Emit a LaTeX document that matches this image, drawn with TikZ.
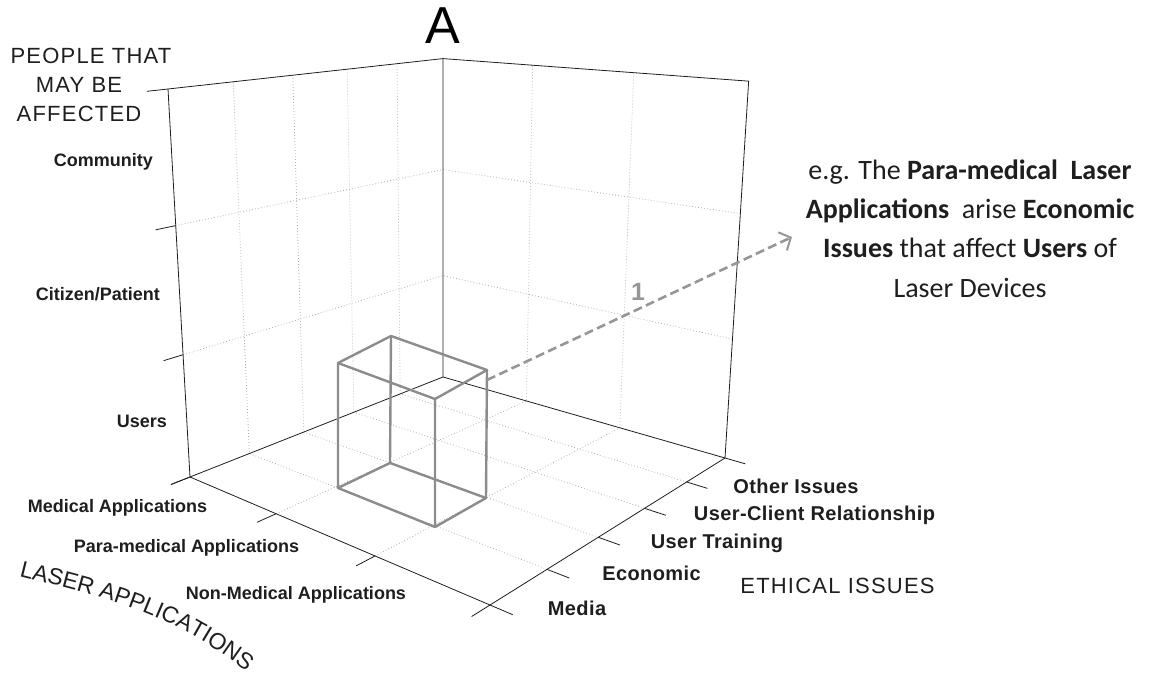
\documentclass[tikz,border=0pt]{standalone}
\usepackage{fontspec}
\setmainfont{Liberation Sans}
\newfontfamily\notefont{Carlito}
\newfontfamily\titlefont{Liberation Sans}[LetterSpace=5.5]
\newfontfamily\ethicfont{Liberation Sans}[LetterSpace=2]
\usetikzlibrary{arrows.meta,decorations.text}

\definecolor{gridgray}{RGB}{175,175,175}
\definecolor{boxgray}{RGB}{140,140,140}
\definecolor{arrowgray}{RGB}{150,150,150}
\definecolor{ink}{RGB}{30,30,30}

% Perspective image of a point of the unit cube:
% l = laser applications, e = ethical issues, p = people (all in [0,1]).
\newcommand\cubept[4]{%
  \pgfmathsetmacro\cubew{1-0.195*(#2)+0.2263*(#3)-0.08*(#4)}%
  \pgfmathsetmacro\cubex{(190+204.45*(#2)+353.25*(#3)-35.44*(#4))/\cubew}%
  \pgfmathsetmacro\cubey{(477+10.03*(#2)-14.7*(#3)-395.12*(#4))/\cubew}%
  \coordinate (#1) at (\cubex,\cubey);%
}

\begin{document}
\begin{tikzpicture}[x=1pt,y=-1pt,
  grid/.style={gridgray, line width=0.8pt, dash pattern=on 0.8pt off 2.2pt},
  frame/.style={ink, line width=0.8pt},
  tickmark/.style={ink, line width=0.8pt},
  ticklabel/.style={font=\fontsize{18}{18}\selectfont\bfseries, text=ink, inner sep=0pt},
  ethiclabel/.style={font=\ethicfont\fontsize{20}{20}\selectfont\bfseries, text=ink, inner sep=0pt},
  axistitle/.style={font=\titlefont\fontsize{22}{29}\selectfont, text=ink, inner sep=0pt},
  cuboid/.style={boxgray, line width=2.4pt, line join=round},
  callout/.style={arrowgray, line width=2.6pt, dash pattern=on 9pt off 4.5pt,
    -{Straight Barb[length=9pt,width=20pt,line width=2pt]}},
  note/.style={font=\notefont\fontsize{28}{39.3}\selectfont, text=ink, align=center, inner sep=0pt}
]
\useasboundingbox (0,0) rectangle (1154,676);

% ---- dotted grid on the floor and the two back walls
\foreach \k in {1,2,3,4} {
  \cubept{ga}{1}{\k/5}{0}
  \cubept{gb}{0}{\k/5}{0}
  \cubept{gc}{0}{\k/5}{1}
  \draw[grid] (ga) -- (gb) -- (gc);
}
\foreach \k in {1,2} {
  \cubept{ha}{\k/3}{0}{0}
  \cubept{hb}{\k/3}{1}{0}
  \cubept{hc}{\k/3}{1}{1}
  \draw[grid] (ha) -- (hb) -- (hc);
  \cubept{va}{0}{0}{\k/3}
  \cubept{vb}{0}{1}{\k/3}
  \cubept{vc}{1}{1}{\k/3}
  \draw[grid] (va) -- (vb) -- (vc);
}

% ---- axis frame
\cubept{O}{0}{0}{0}
\cubept{F}{1}{0}{0}
\cubept{BK}{0}{1}{0}
\cubept{RB}{1}{1}{0}
\cubept{LT}{0}{0}{1}
\cubept{BT}{0}{1}{1}
\cubept{RT}{1}{1}{1}
\draw[frame] (LT) -- (O) -- (F) -- (RB) -- (RT) -- (BT) -- (LT);
\draw[frame] (BT) -- (BK);
\draw[frame] (O) -- (BK) -- (RB);

% ---- tick marks
\foreach \k in {0,1,2,3} {
  \cubept{ta}{0}{0}{\k/3}
  \cubept{tb}{0}{-0.06}{\k/3}
  \draw[tickmark] (ta) -- (tb);
  \cubept{tc}{\k/3}{0}{0}
  \cubept{td}{\k/3}{-0.06}{0}
  \draw[tickmark] (tc) -- (td);
}
\foreach \k in {0,...,5} {
  \cubept{te}{1}{\k/5}{0}
  \cubept{tf}{1.06}{\k/5}{0}
  \draw[tickmark] (te) -- (tf);
}

% ---- highlighted cell: para-medical / economic / users
\coordinate (t1) at (338,363);
\coordinate (t2) at (391,336);
\coordinate (t3) at (487,370);
\coordinate (t4) at (435,399);
\coordinate (b1) at (338,488);
\coordinate (b2) at (390,463);
\coordinate (b3) at (486,498);
\coordinate (b4) at (435,527);
\draw[cuboid] (t1) -- (t2) -- (t3) -- (t4) -- cycle;
\draw[cuboid] (b1) -- (b2) -- (b3) -- (b4) -- cycle;
\draw[cuboid] (t1) -- (b1) (t2) -- (b2) (t3) -- (b3) (t4) -- (b4);

% ---- callout
\coordinate (src) at (487,380);
\coordinate (tip) at (792,237);
\draw[callout] (src) -- (tip);
\node[font=\fontsize{25}{25}\selectfont\bfseries, text=arrowgray, inner sep=0pt] (one) at (638,292) {1};

\node[note, anchor=north] (note) at (970,159.5)
  {e.g. The \textbf{Para-medical\ \ Laser}\\
   \textbf{Applications}\ \ arise \textbf{Economic}\\
   \textbf{Issues} that affect \textbf{Users} of\\
   Laser Devices};

% ---- title and axis titles
\node[font=\fontsize{52}{52}\selectfont, text=black, inner sep=0pt] (title) at (443,26) {A};
\node[axistitle, align=center, anchor=north] (peopletitle) at (79,48)
  {PEOPLE THAT\hspace*{-24pt}\\MAY BE\\AFFECTED};
\node[axistitle, anchor=base] (ethicstitle) at (837.5,593) {ETHICAL ISSUES};
\path[decorate, decoration={text along path, text align=left,
    text={|\fontsize{23}{23}\selectfont\color{ink}|LASER APPLICATIONS}}]
  (19,576) to[out=-14, in=140] (262,684);

% ---- tick labels: people
\node[ticklabel, anchor=base east] (community) at (153,167) {Community};
\node[ticklabel, anchor=base east] (citizen) at (160,301) {Citizen/Patient};
\node[ticklabel, anchor=base east] (users) at (167,427) {Users};

% ---- tick labels: laser applications
\node[ticklabel, anchor=base] (medical) at (117.5,512.5) {Medical Applications};
\node[ticklabel, anchor=base] (paramedical) at (186.5,552) {Para-medical Applications};
\node[ticklabel, anchor=base] (nonmedical) at (296,599) {Non-Medical Applications};

% ---- tick labels: ethical issues
\node[ethiclabel, anchor=base] (media) at (577,615.5) {Media};
\node[ethiclabel, anchor=base] (economic) at (651.5,580) {Economic};
\node[ethiclabel, anchor=base] (training) at (717,548) {User Training};
\node[ethiclabel, anchor=base] (relationship) at (814.5,520) {User-Client Relationship};
\node[ethiclabel, anchor=base] (other) at (796,493) {Other Issues};
\end{tikzpicture}
\end{document}
